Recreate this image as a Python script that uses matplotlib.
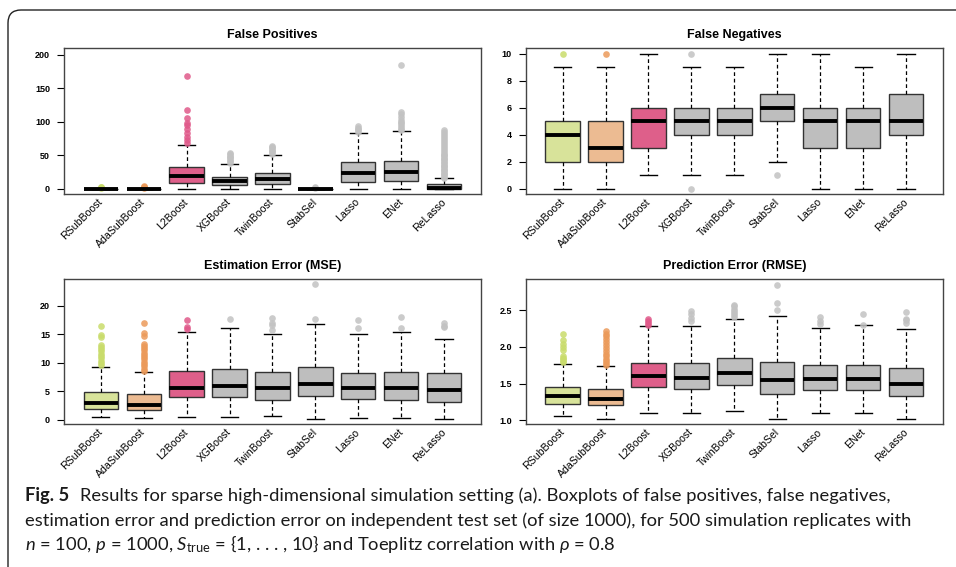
import matplotlib
matplotlib.use("Agg")
import matplotlib.pyplot as plt
from matplotlib import font_manager
from matplotlib.patches import FancyBboxPatch

# methods and colours
methods = ["RSubBoost", "AdaSubBoost", "L2Boost", "XGBoost", "TwinBoost",
           "StabSel", "Lasso", "ENet", "ReLasso"]
box_colors = ["#d8e39a", "#ecbb92", "#de5f8a"] + ["#bebebe"] * 6
flier_colors = ["#c9dc6b", "#eb9a5a", "#e0598a"] + ["#c2c2c2"] * 6

# False positives
fp_lo = [0, 0, 0, 0, 0, 0, 0, 0, 0]
fp_q1 = [0, 0, 8.5, 5.5, 6.9, 0, 10.4, 11.9, 0]
fp_med = [0, 0, 19.3, 11.4, 13.9, 0, 22.8, 24.3, 1]
fp_q3 = [0, 0, 31.8, 17.9, 23.8, 0, 40.2, 41.7, 6.4]
fp_hi = [0, 0, 65.5, 37.2, 50.1, 0, 83.3, 85.3, 15.4]
fp_out = [
    [1, 2, 3],
    [1, 2, 3, 4],
    [67.5, 72.4, 77.4, 82.3, 88.3, 94.2, 97.7, 105.7, 117.6, 168.7],
    [39, 41, 43, 45, 47, 49, 51, 53],
    [52, 54, 56, 58, 60, 62, 63],
    [1, 2],
    [85, 87, 89, 91, 93],
    [87, 89, 92, 95, 98, 100, 103, 107, 111, 115, 184],
    [16, 18, 20, 22, 24, 26, 28, 30, 32, 34, 36, 38, 40, 42, 44, 46, 48, 50,
     52, 55, 58, 61, 64, 67, 70, 73, 76, 79, 82, 85, 87],
]

# False negatives
fn_lo = [0, 0, 1, 1, 1, 2, 0, 0, 0]
fn_q1 = [2, 2, 3, 4, 4, 5, 3, 3, 4]
fn_med = [4, 3, 5, 5, 5, 6, 5, 5, 5]
fn_q3 = [5, 5, 6, 6, 6, 7, 6, 6, 7]
fn_hi = [9, 9, 10, 9, 9, 10, 10, 9, 10]
fn_out = [[10], [10], [], [0, 10], [], [1], [], [], []]

# Estimation error (MSE)
mse_lo = [0.52, 0.35, 0.52, 0.52, 0.7, 0.17, 0.29, 0.29, 0.17]
mse_q1 = [1.92, 1.74, 3.95, 4.07, 3.55, 4.19, 3.6, 3.55, 3.14]
mse_med = [2.9, 2.67, 5.64, 5.99, 5.58, 6.28, 5.64, 5.64, 5.29]
mse_q3 = [4.94, 4.48, 8.49, 8.9, 8.31, 9.19, 8.14, 8.31, 8.26]
mse_hi = [9.3, 8.37, 15.35, 16.16, 15.1, 16.7, 15.1, 15.3, 14.2]
mse_out = [
    [9.6, 10.0, 10.4, 10.8, 11.2, 11.6, 12.0, 12.4, 12.8, 13.2, 14.5, 14.8, 16.5],
    [8.6, 9.0, 9.4, 9.8, 10.2, 10.6, 11.0, 11.4, 11.8, 12.2, 12.6, 13.0, 13.3,
     14.7, 15.2, 17.0],
    [15.9, 16.3, 17.4],
    [17.7],
    [15.75, 16.6, 17.0, 17.8],
    [17.7, 23.7],
    [16.0, 17.4],
    [16.0, 17.96],
    [16.3, 16.5, 17.0],
]

# Prediction error (RMSE)
rmse_lo = [1.054, 1.014, 1.104, 1.095, 1.131, 1.018, 1.095, 1.095, 1.018]
rmse_q1 = [1.222, 1.208, 1.458, 1.426, 1.485, 1.362, 1.412, 1.408, 1.331]
rmse_med = [1.331, 1.285, 1.603, 1.575, 1.639, 1.548, 1.557, 1.557, 1.489]
rmse_q3 = [1.449, 1.421, 1.784, 1.775, 1.843, 1.788, 1.748, 1.757, 1.711]
rmse_hi = [1.77, 1.739, 2.278, 2.282, 2.373, 2.423, 2.255, 2.291, 2.246]
rmse_out = [
    [1.79, 1.81, 1.83, 1.85, 1.87, 1.95, 1.99, 2.04, 2.09, 2.17],
    [1.75, 1.78, 1.81, 1.84, 1.87, 1.90, 1.94, 1.98, 2.02, 2.06, 2.10, 2.14,
     2.18, 2.22],
    [2.30, 2.32, 2.35, 2.38],
    [2.35, 2.39, 2.44, 2.49],
    [2.40, 2.43, 2.46, 2.49, 2.52, 2.55, 2.57],
    [2.50, 2.59, 2.84],
    [2.31, 2.35, 2.40],
    [2.30, 2.44],
    [2.32, 2.36, 2.38, 2.47],
]

caption_lines = [
    "Results for sparse high-dimensional simulation setting (a). Boxplots of false positives, false negatives,",
    "estimation error and prediction error on independent test set (of size 1000), for 500 simulation replicates with",
    r"$n$ = 100, $p$ = 1000, $S_{\mathrm{true}}$ = {1, . . . , 10} and Toeplitz correlation with $\rho$ = 0.8",
]

installed = {f.name for f in font_manager.fontManager.ttflist}
cap_font = "Liberation Sans Narrow" if "Liberation Sans Narrow" in installed else "Lato"
plt.rcParams["font.family"] = ["Liberation Sans", "DejaVu Sans"]
plt.rcParams["mathtext.fontset"] = "custom"
plt.rcParams["mathtext.rm"] = cap_font
plt.rcParams["mathtext.it"] = cap_font + ":italic"


def draw_panel(ax, title, lo, q1, med, q3, hi, out, ylim, yticks, ylabels):
    stats = []
    for i in range(len(methods)):
        stats.append({"whislo": lo[i], "q1": q1[i], "med": med[i], "q3": q3[i],
                      "whishi": hi[i], "fliers": out[i], "label": methods[i]})
    parts = ax.bxp(stats, positions=range(1, 10), widths=0.8, patch_artist=True,
                   boxprops={"edgecolor": "#333333", "linewidth": 1.0},
                   medianprops={"color": "black", "linewidth": 2.8, "solid_capstyle": "butt"},
                   whiskerprops={"color": "black", "linewidth": 0.9, "linestyle": (0, (3, 2.2))},
                   capprops={"color": "black", "linewidth": 1.0},
                   capwidths=0.4)
    for box, c in zip(parts["boxes"], box_colors):
        box.set_facecolor(c)
    for fl, c in zip(parts["fliers"], flier_colors):
        fl.set(marker="o", markerfacecolor=c, markeredgecolor="none",
               markersize=4.8, alpha=0.85)
    ax.set_xlim(0.14, 9.86)
    ax.set_ylim(*ylim)
    ax.set_yticks(yticks)
    ax.set_yticklabels(ylabels, fontsize=6.5, fontweight="bold")
    ax.tick_params(axis="y", length=5, width=0.8, pad=5)
    ax.tick_params(axis="x", length=0, pad=4.5)
    ax.set_xticks(range(1, 10))
    ax.set_xticklabels(methods, rotation=45, ha="right", va="center",
                       rotation_mode="anchor", fontsize=7.6)
    for s in ax.spines.values():
        s.set_color("#444444")
        s.set_linewidth(1.0)
    ax.set_title(title, fontsize=9, fontweight="bold", pad=7.5)


fig = plt.figure(figsize=(9.56, 5.67), dpi=100)

ax1 = fig.add_axes([0.0669, 0.6578, 0.4362, 0.2567])
ax2 = fig.add_axes([0.5499, 0.6578, 0.4365, 0.2567])
ax3 = fig.add_axes([0.0669, 0.2517, 0.4362, 0.2557])
ax4 = fig.add_axes([0.5499, 0.2517, 0.4365, 0.2557])

draw_panel(ax1, "False Positives", fp_lo, fp_q1, fp_med, fp_q3, fp_hi, fp_out,
           (-8, 209), [0, 50, 100, 150, 200], ["0", "50", "100", "150", "200"])
draw_panel(ax2, "False Negatives", fn_lo, fn_q1, fn_med, fn_q3, fn_hi, fn_out,
           (-0.4, 10.4), [0, 2, 4, 6, 8, 10], ["0", "2", "4", "6", "8", "10"])
draw_panel(ax3, "Estimation Error (MSE)", mse_lo, mse_q1, mse_med, mse_q3, mse_hi, mse_out,
           (-0.75, 24.6), [0, 5, 10, 15, 20], ["0", "5", "10", "15", "20"])
draw_panel(ax4, "Prediction Error (RMSE)", rmse_lo, rmse_q1, rmse_med, rmse_q3, rmse_hi, rmse_out,
           (0.945, 2.918), [1.0, 1.5, 2.0, 2.5], ["1.0", "1.5", "2.0", "2.5"])

# rounded frame around the whole figure (runs off the right and bottom edges)
frame = FancyBboxPatch((0.08, -0.3), 9.9, 5.87, boxstyle="round,pad=0,rounding_size=0.13",
                       transform=fig.dpi_scale_trans, facecolor="none",
                       edgecolor="#222222", linewidth=1.0, clip_on=False)
fig.add_artist(frame)

# caption
cap_size = 13.2
line_y = [0.117, 0.072, 0.030]
fig_label = fig.text(25 / 956, line_y[0], "Fig. 5", fontsize=cap_size, fontweight="bold",
                     family=[cap_font, "DejaVu Sans"], color="#1a1a1a", va="baseline")
ax1.annotate(caption_lines[0], xy=(1, 0), xycoords=fig_label, xytext=(8, 0),
             textcoords="offset points", fontsize=cap_size, family=[cap_font, "DejaVu Sans"],
             color="#1a1a1a", va="bottom", ha="left", annotation_clip=False)
fig.text(25 / 956, line_y[1], caption_lines[1], fontsize=cap_size,
         family=[cap_font, "DejaVu Sans"], color="#1a1a1a", va="baseline")
fig.text(25 / 956, line_y[2], caption_lines[2], fontsize=cap_size,
         family=[cap_font, "DejaVu Sans"], color="#1a1a1a", va="baseline")

fig.savefig("out.png", dpi=100)
